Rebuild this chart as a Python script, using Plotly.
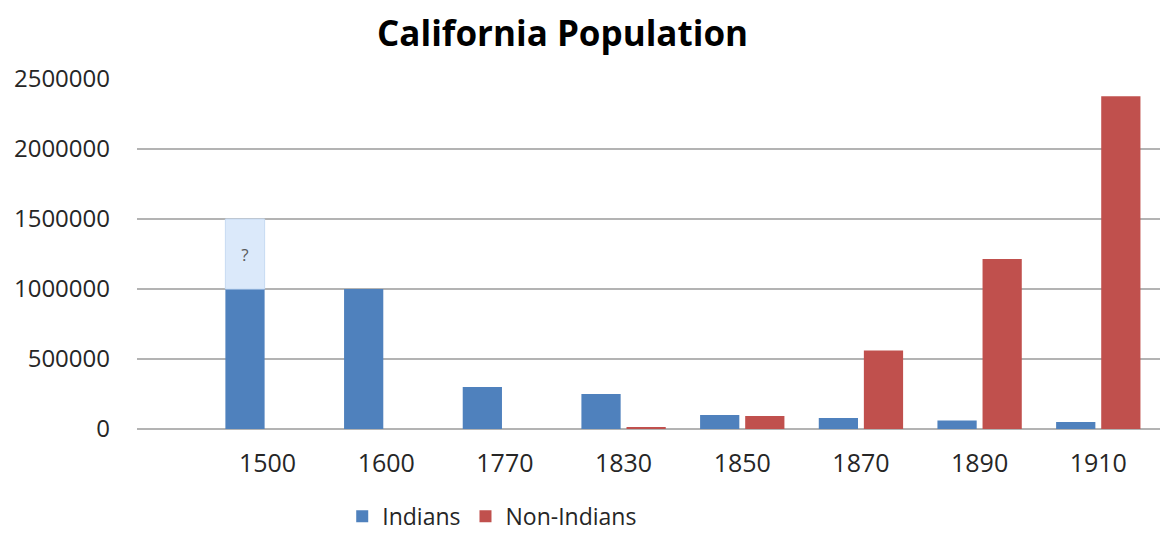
import plotly.graph_objects as go

years = ["1500", "1600", "1770", "1830", "1850", "1870", "1890", "1910"]
indians = [1000000, 1000000, 300000, 250000, 100000, 78000, 60000, 50000]
non_indians = [0, 0, 0, 12000, 92597, 560247, 1213398, 2377549]
uncertain = [500000, None, None, None, None, None, None, None]
uncertain_text = ["?", "", "", "", "", "", "", ""]

BLUE = "#4f81bd"
RED = "#c0504d"
LIGHT = "#dbe9fa"

fig = go.Figure()
fig.add_trace(go.Bar(x=years, y=indians, name="Indians", marker_color=BLUE,
                     offsetgroup="ind", marker_line_width=0))
fig.add_trace(go.Bar(x=years, y=uncertain, base=indians, name="?", showlegend=False,
                     marker=dict(color=LIGHT, line=dict(color="#c6daf2", width=1)),
                     offsetgroup="ind", text=uncertain_text, textposition="inside",
                     insidetextanchor="middle",
                     textfont=dict(color="#595959", size=17, family="Open Sans")))
fig.add_trace(go.Bar(x=years, y=non_indians, name="Non-Indians", marker_color=RED,
                     offsetgroup="non", marker_line_width=0))

fig.update_layout(
    width=1172, height=535,
    margin=dict(l=137, r=12, t=79, b=106),
    paper_bgcolor="white", plot_bgcolor="white",
    barmode="group", bargap=0.24, bargroupgap=0.13,
    title=dict(text="<b>California Population</b>", x=0.48, xanchor="center",
               y=0.937, yanchor="middle",
               font=dict(family="Open Sans", size=35, color="black")),
    font=dict(family="Open Sans", color="#262626"),
    legend=dict(orientation="h", xref="container", x=0.292, xanchor="left",
                yref="container", y=0.035, yanchor="middle",
                font=dict(size=23, color="#262626"), itemwidth=30,
                traceorder="normal"),
    showlegend=True,
)
fig.update_xaxes(type="category", range=[-1.1, 7.52], showgrid=False,
                 showline=False, tickfont=dict(size=25, color="#262626"),
                 ticks="", ticklabelstandoff=17)
fig.update_yaxes(range=[0, 2500000], tickvals=[0, 500000, 1000000, 1500000, 2000000, 2500000],
                 ticktext=["0", "500000", "1000000", "1500000", "2000000", "2500000"],
                 showgrid=True, gridcolor="#b3b3b3", gridwidth=2,
                 zeroline=True, zerolinecolor="#b3b3b3", zerolinewidth=2,
                 tickfont=dict(size=24, color="#262626"), ticks="", ticklabelstandoff=26)

fig.write_html("out.html")
